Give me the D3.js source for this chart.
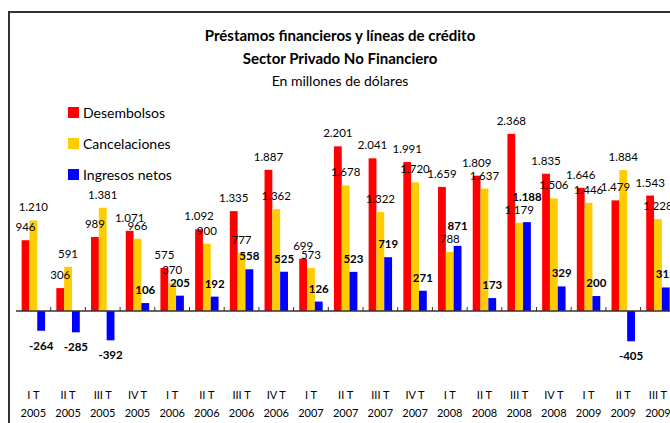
<!DOCTYPE html>
<html>
<head>
<meta charset="utf-8">
<script src="https://cdn.jsdelivr.net/npm/d3@7"></script>
<style>
  body { margin: 0; background: #fff; }
  text { font-family: Lato, "Open Sans", sans-serif; fill: #000; }
</style>
</head>
<body>
<div id="chart"></div>
<script>
var quarters = ["I T", "II T", "III T", "IV T", "I T", "II T", "III T", "IV T", "I T", "II T",
  "III T", "IV T", "I T", "II T", "III T", "IV T", "I T", "II T", "III T"];
var years = ["2005", "2005", "2005", "2005", "2006", "2006", "2006", "2006", "2007", "2007",
  "2007", "2007", "2008", "2008", "2008", "2008", "2009", "2009", "2009"];
var desembolsos = [946, 306, 989, 1071, 575, 1092, 1335, 1887, 699, 2201, 2041, 1991, 1659, 1809, 2368, 1835, 1646, 1479, 1543];
var cancelaciones = [1210, 591, 1381, 966, 370, 900, 777, 1362, 573, 1678, 1322, 1720, 788, 1637, 1179, 1506, 1446, 1884, 1228];
var ingresos = [-264, -285, -392, 106, 205, 192, 558, 525, 126, 523, 719, 271, 871, 173, 1188, 329, 200, -405, 315];
var seriesNames = ["Desembolsos", "Cancelaciones", "Ingresos netos"];
var seriesColors = ["#ff0000", "#ffcc00", "#0000ff"];

var width = 670,
  height = 423,
  svg = d3
    .select("#chart")
    .append("svg")
    .attr("width", width)
    .attr("height", height);

var series = [desembolsos, cancelaciones, ingresos];

var locale = d3.formatLocale({ decimal: ",", thousands: ".", grouping: [3], currency: ["", ""], minus: "-" });
var fmt = locale.format(",d");

// frame
svg.append("path")
  .attr("d", "M9," + height + " V12 H" + width)
  .attr("fill", "none")
  .attr("stroke", "#333")
  .attr("stroke-width", 2);

// titles
var titles = [
  { t: "Préstamos financieros y líneas de crédito", y: 41, w: "bold", s: 15 },
  { t: "Sector Privado No Financiero", y: 64, w: "bold", s: 15 },
  { t: "En millones de dólares", y: 86, w: "normal", s: 14 }
];
svg.selectAll(".title").data(titles).enter()
  .append("text")
  .attr("x", 340)
  .attr("y", function(d) { return d.y; })
  .attr("text-anchor", "middle")
  .style("font-size", function(d) { return d.s + "px"; })
  .style("font-weight", function(d) { return d.w; })
  .text(function(d) { return d.t; });

// scales
var step = 34.7, x0 = 16;
var x = d3.scaleBand()
  .domain(d3.range(quarters.length))
  .range([x0, x0 + step * quarters.length]);
var xi = d3.scaleBand()
  .domain(d3.range(3))
  .range([0, x.bandwidth()])
  .paddingOuter(0.72);
var y = d3.scaleLinear().domain([-500, 2500]).range([348.4, 124]);

// bars
var gBars = svg.append("g");
series.forEach(function(vals, s) {
  gBars.selectAll(".bar" + s)
    .data(vals)
    .enter()
    .append("rect")
    .attr("x", function(d, i) { return x(i) + xi(s); })
    .attr("width", xi.bandwidth())
    .attr("y", function(d) { return y(Math.max(0, d)); })
    .attr("height", function(d) { return Math.abs(y(d) - y(0)); })
    .attr("fill", seriesColors[s]);
});

// value labels (blue label is lifted when it would sit on the yellow one)
function labelY(s, i) {
  var d = series[s][i];
  if (d < 0) return y(d) + 19;
  var ly = y(d) - 9;
  if (s === 2) {
    var yy = y(cancelaciones[i]) - 9;
    if (Math.abs(yy - ly) < 12) ly = yy - 13;
  }
  return ly;
}
series.forEach(function(vals, s) {
  gBars.selectAll(".lab" + s)
    .data(vals)
    .enter()
    .append("text")
    .attr("x", function(d, i) { return x(i) + xi(s) + xi.bandwidth() / 2; })
    .attr("y", function(d, i) { return labelY(s, i); })
    .attr("text-anchor", "middle")
    .style("font-size", "11.5px")
    .style("font-weight", s === 2 ? "bold" : "normal")
    .text(function(d) { return fmt(d); });
});

// axis
svg.append("line")
  .attr("x1", x0).attr("x2", width)
  .attr("y1", y(0)).attr("y2", y(0))
  .attr("stroke", "#333")
  .attr("stroke-width", 1.5);
svg.selectAll(".tick").data(d3.range(1, quarters.length)).enter()
  .append("line")
  .attr("x1", function(d) { return x(d); })
  .attr("x2", function(d) { return x(d); })
  .attr("y1", y(0) - 4)
  .attr("y2", y(0))
  .attr("stroke", "#333");

svg.selectAll(".q").data(quarters).enter()
  .append("text")
  .attr("x", function(d, i) { return x(i) + x.bandwidth() / 2; })
  .attr("y", 399)
  .attr("text-anchor", "middle")
  .style("font-size", "11px")
  .text(function(d) { return d; });
svg.selectAll(".yr").data(years).enter()
  .append("text")
  .attr("x", function(d, i) { return x(i) + x.bandwidth() / 2; })
  .attr("y", 417)
  .attr("text-anchor", "middle")
  .style("font-size", "11px")
  .text(function(d) { return d; });

// legend
var legend = svg.selectAll(".leg").data(seriesNames).enter()
  .append("g")
  .attr("transform", function(d, i) { return "translate(68," + [107, 138, 169][i] + ")"; });
legend.append("rect")
  .attr("width", 11)
  .attr("height", 11)
  .attr("fill", function(d, i) { return seriesColors[i]; });
legend.append("text")
  .attr("x", 15)
  .attr("y", 10.5)
  .style("font-size", "14px")
  .text(function(d) { return d; });
</script>
</body>
</html>
